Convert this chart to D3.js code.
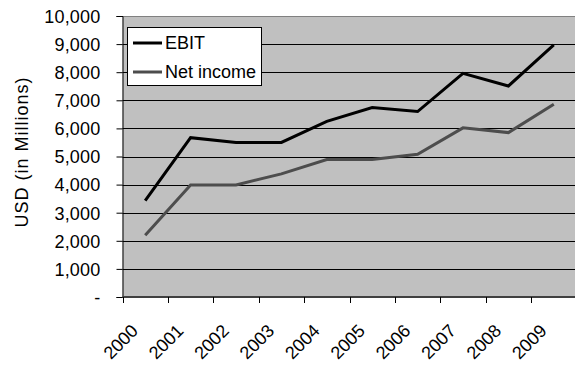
<!DOCTYPE html>
<html><head><meta charset="utf-8">
<script src="https://cdn.jsdelivr.net/npm/d3@7"></script>
<style>body{margin:0;background:#fff}svg{display:block}text{font-family:"Liberation Sans",Arial,sans-serif}</style>
</head><body>
<script>
const years = ["2000","2001","2002","2003","2004","2005","2006","2007","2008","2009"];
const ebit = [3430,5670,5500,5500,6250,6740,6600,7960,7510,8970];
const netIncome = [2200,3990,3990,4380,4890,4890,5080,6020,5850,6860];
const yTicks = [0,1000,2000,3000,4000,5000,6000,7000,8000,9000,10000];
const seriesNames = ["EBIT","Net income"];
const seriesColors = ["#000000","#4d4d4d"];

const W=575,H=365;
const L=122.5,R=576.5,T=16,B=297;
const svg=d3.select("body").append("svg").attr("width",W).attr("height",H);
const x=d3.scaleBand().domain(years).range([L,R]).paddingInner(0).paddingOuter(0);
const y=d3.scaleLinear().domain([0,10000]).range([B,T]);

svg.append("rect").attr("x",L).attr("y",T).attr("width",R-L).attr("height",B-T).attr("fill","#c0c0c0");
// gridlines
svg.append("g").selectAll("line").data(yTicks.filter(d=>d>0)).join("line")
 .attr("x1",L).attr("x2",R).attr("y1",d=>Math.round(y(d))+0.5).attr("y2",d=>Math.round(y(d))+0.5)
 .attr("stroke",d=>d===10000?"#808080":"#000").attr("stroke-width",1);

// y axis
const fmt=d=>d===0?"-":d3.format(",")(d);
const ya=svg.append("g").attr("transform",`translate(${L},0)`)
 .call(d3.axisLeft(y).tickValues(yTicks).tickFormat(fmt).tickSize(6).tickPadding(16));
ya.select(".domain").attr("stroke","#000");
ya.selectAll(".tick line").attr("stroke","#000");
ya.selectAll(".tick text").attr("font-size","18px").attr("letter-spacing","0.2px").attr("fill","#000").attr("dy","0.35em");

// x axis
const xa=svg.append("g").attr("transform",`translate(0,${B})`);
xa.append("line").attr("x1",L).attr("x2",R).attr("y1",0).attr("y2",0).attr("stroke","#404040").attr("stroke-width",2);
xa.selectAll("line.tk").data(years).join("line").attr("class","tk")
 .attr("x1",d=>Math.round(x(d))+0.5).attr("x2",d=>Math.round(x(d))+0.5).attr("y1",0).attr("y2",6).attr("stroke","#000");
xa.selectAll("text").data(years).join("text")
 .attr("transform",d=>`translate(${x(d)+x.bandwidth()/2-6},35) rotate(-45)`)
 .attr("text-anchor","end").attr("font-size","18px").attr("fill","#000").text(d=>d);

// y title
svg.append("text").attr("transform",`translate(28,152) rotate(-90)`).attr("text-anchor","middle")
 .attr("font-size","18px").attr("letter-spacing","1px").attr("fill","#000").text("USD (in Millions)");

// lines
const line=d3.line().x((d,i)=>x(years[i])+x.bandwidth()/2).y(d=>y(d));
[ebit,netIncome].forEach((s,k)=>{
 svg.append("path").datum(s).attr("d",line).attr("fill","none")
  .attr("stroke",seriesColors[k]).attr("stroke-width",3).attr("stroke-linejoin","miter");
});

// legend
const lg=svg.append("g");
lg.append("rect").attr("x",127.5).attr("y",27.5).attr("width",134).attr("height",58).attr("fill","#fff").attr("stroke","#000");
seriesNames.forEach((n,k)=>{
 const yy=43+k*29;
 lg.append("line").attr("x1",133).attr("x2",162).attr("y1",yy).attr("y2",yy).attr("stroke",seriesColors[k]).attr("stroke-width",3);
 lg.append("text").attr("x",165).attr("y",yy).attr("dy","0.35em").attr("font-size","18px").attr("fill","#000").text(n);
});
</script>
</body></html>
